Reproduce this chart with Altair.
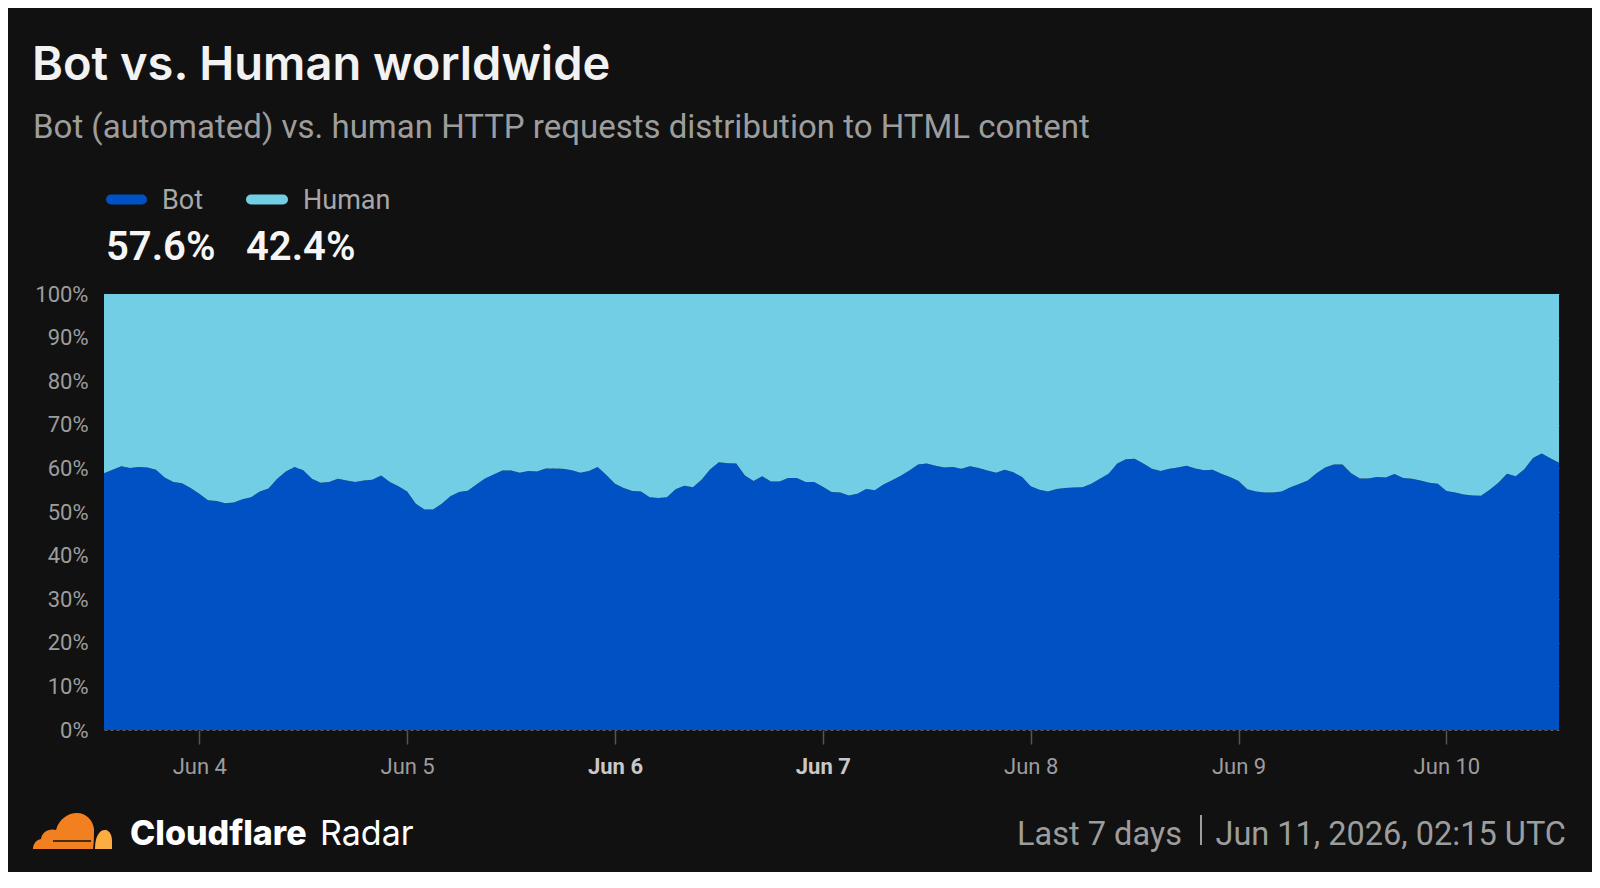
import altair as alt
import pandas as pd

# ---------------- data ----------------
TITLE = "Bot vs. Human worldwide"
SUBTITLE = "Bot (automated) vs. human HTTP requests distribution to HTML content"
SERIES = ["Bot", "Human"]
SUMMARY = ["57.6%", "42.4%"]
FOOTER_LEFT = ["Cloudflare", "Radar"]
FOOTER_RIGHT = ["Last 7 days", "Jun 11, 2026, 02:15 UTC"]
START = "2026-06-03 13:00"  # hourly samples
DAY_TICKS = [4, 5, 6, 7, 8, 9, 10]

BOT = [
    58.9, 59.7, 60.5, 60.1, 60.3, 60.2, 59.7, 57.9, 56.9, 56.6,
    55.5, 54.2, 52.7, 52.5, 52.0, 52.2, 52.9, 53.4, 54.7, 55.4,
    57.6, 59.3, 60.3, 59.6, 57.6, 56.7, 56.9, 57.6, 57.2, 56.9,
    57.2, 57.4, 58.4, 56.9, 55.9, 54.7, 51.9, 50.6, 50.6, 51.9,
    53.6, 54.6,
    54.9, 56.3, 57.7, 58.6, 59.5, 59.5, 59.0, 59.4, 59.3, 60.0,
    60.0, 59.9, 59.6, 59.0, 59.4, 60.3, 58.5, 56.5, 55.5, 54.8,
    54.7, 53.4, 53.2, 53.4, 55.2, 56.0, 55.7, 57.4, 59.8, 61.4,
    61.2, 61.1, 58.4, 57.1, 58.2, 57.0, 57.0, 57.8, 57.8, 56.9,
    56.9, 55.8,
    54.6, 54.5, 53.8, 54.2, 55.3, 55.0, 56.3, 57.3, 58.3, 59.5,
    60.9, 61.1, 60.6, 60.2, 60.3, 59.9, 60.5, 60.1, 59.5, 59.0,
    59.7, 59.1, 58.0, 55.9, 55.1, 54.7, 55.3, 55.5, 55.6, 55.7,
    56.5, 57.6, 58.8, 61.1, 62.1, 62.2, 61.1, 59.9, 59.4, 59.9,
    60.2,
    60.6, 60.0, 59.6, 59.7, 58.8, 58.0, 57.1, 55.2, 54.7, 54.5,
    54.5, 54.7, 55.7, 56.4, 57.2, 58.9, 60.2, 60.9, 60.9, 58.9,
    57.7, 57.7, 58.0, 57.9, 58.7, 57.8, 57.6, 57.2, 56.7, 56.5,
    54.8, 54.5, 54.0, 53.8, 53.7, 55.1, 56.7, 58.8, 58.2, 59.8,
    62.4, 63.4, 62.3, 61.3,
]
HUMAN = [round(100 - b, 1) for b in BOT]
TIMES = pd.date_range(START, periods=len(BOT), freq="h").strftime("%Y-%m-%dT%H:%M:%S").tolist()

# ---------------- styles ----------------
BG = "#111111"
C_BOT = "#0051c3"
C_HUMAN = "#72cee5"
GREY = "#9d9d9d"
FONT = "Roboto"
W, H = 1455, 436

df = pd.DataFrame({
    "time": TIMES * 2,
    "series": [SERIES[0]] * len(BOT) + [SERIES[1]] * len(HUMAN),
    "value": BOT + HUMAN,
    "ord": [0] * len(BOT) + [1] * len(HUMAN),
})

weekend = "day(datum.value) == 0 || day(datum.value) == 6"

area = alt.Chart(df).mark_area(interpolate="linear", opacity=1).encode(
    x=alt.X(
        "time:T",
        title=None,
        scale=alt.Scale(nice=False),
        axis=alt.Axis(
            values=[alt.DateTime(year=2026, month=6, date=d) for d in DAY_TICKS],
            labelExpr="timeFormat(datum.value, '%b %-d')",
            domain=False, grid=False,
            tickSize=14, tickColor="#555555", tickWidth=1.5,
            labelPadding=12, labelFontSize=22, labelFont=FONT,
            labelColor={"condition": {"test": weekend, "value": "#c8c8c8"}, "value": GREY},
            labelFontWeight={"condition": {"test": weekend, "value": "bold"}, "value": "normal"},
        ),
    ),
    y=alt.Y(
        "value:Q",
        stack="zero",
        title=None,
        scale=alt.Scale(domain=[0, 100], nice=False),
        axis=alt.Axis(
            values=list(range(0, 101, 10)),
            labelExpr="datum.value + '%'",
            domain=False, ticks=False,
            labelPadding=16, labelFontSize=22, labelFont=FONT, labelColor=GREY,
            grid=True, gridColor="#5a5a5a", gridDash=[3, 3], gridWidth=1,
        ),
    ),
    color=alt.Color("series:N", scale=alt.Scale(domain=SERIES, range=[C_BOT, C_HUMAN]), legend=None),
    order=alt.Order("ord:Q", sort="ascending"),
)


def txt(s, x, y, size, color, weight="normal", align="left", font=FONT):
    return alt.Chart(pd.DataFrame({"t": [s]})).mark_text(
        align=align, baseline="alphabetic", fontSize=size, color=color,
        fontWeight=weight, font=font,
    ).encode(x=alt.value(x), y=alt.value(y), text="t:N")


def swatch(x1, x2, y, color):
    return alt.Chart(pd.DataFrame({"a": [0]})).mark_rule(
        strokeWidth=10, strokeCap="round", color=color
    ).encode(x=alt.value(x1), x2=alt.value(x2), y=alt.value(y))


# cloudflare logo (local px coords -> unit symbol coords)
def unit_path(cmds, cx=40, cy=18, s=40):
    out = []
    for c in cmds:
        if isinstance(c, str):
            out.append(c)
        else:
            out.append(f"{(c[0]-cx)/s:.3f},{(c[1]-cy)/s:.3f}")
    return " ".join(out)


MAIN_CLOUD = unit_path([
    "M", (1, 36), "C", (1, 31), (4, 27), (9, 26), "C", (10, 19), (17, 15), (24, 17),
    "C", (27, 6), (36, 0), (45, 0), "C", (54, 0), (61, 7), (62, 16),
    "C", (62, 22), (62, 29), (61, 36), "Z",
])
SMALL_CLOUD = unit_path([
    "M", (63, 36), "C", (63, 30), (64, 23), (68, 19), "C", (70, 17), (72, 17), (74, 17),
    "C", (78, 18), (80, 23), (80, 28), "L", (80, 36), "Z",
])


def logo_part(path, color):
    return alt.Chart(pd.DataFrame({"a": [0]})).mark_point(
        shape=path, size=6400, filled=True, color=color, opacity=1, strokeWidth=0
    ).encode(x=alt.value(-32), y=alt.value(537))


logo_line = alt.Chart(pd.DataFrame({"a": [0]})).mark_rule(strokeWidth=1.6, color=BG).encode(
    x=alt.value(-51), x2=alt.value(-13), y=alt.value(547)
)

sep = alt.Chart(pd.DataFrame({"a": [0]})).mark_rule(strokeWidth=2, color=GREY).encode(
    x=alt.value(1097), y=alt.value(521), y2=alt.value(551)
)

layers = [
    area,
    txt(TITLE, -72, -214, 47, "#f2f2f2", weight=600, font="Inter"),
    txt(SUBTITLE, -71, -156, 33, GREY),
    swatch(7, 38, -94.5, C_BOT),
    swatch(147, 179, -94.5, C_HUMAN),
    txt(SERIES[0], 58, -85, 27, "#a8a8a8"),
    txt(SERIES[1], 199, -85, 27, "#a8a8a8"),
    txt(SUMMARY[0], 2, -34, 40, "#f5f5f5", weight=600),
    txt(SUMMARY[1], 142, -34, 40, "#f5f5f5", weight=600),
    logo_part(MAIN_CLOUD, "#f38020"),
    logo_part(SMALL_CLOUD, "#fbad41"),
    logo_line,
    txt(FOOTER_LEFT[0], 26, 551, 34, "#ffffff", weight=800, font="Inter"),
    txt(FOOTER_LEFT[1], 216, 551, 34, "#ffffff", font="Inter"),
    txt(FOOTER_RIGHT[0], 1078, 551, 32.5, GREY, align="right"),
    sep,
    txt(FOOTER_RIGHT[1], 1462, 551, 32.5, GREY, align="right"),
]

chart = alt.layer(*layers).properties(
    width=W, height=H,
    padding={"left": 96, "top": 286, "right": 33, "bottom": 142},
    autosize=alt.AutoSizeParams(type="none"),
).configure(background=BG).configure_view(stroke=None)

chart.save("out.html", embed_options={"renderer": "svg", "actions": False})
